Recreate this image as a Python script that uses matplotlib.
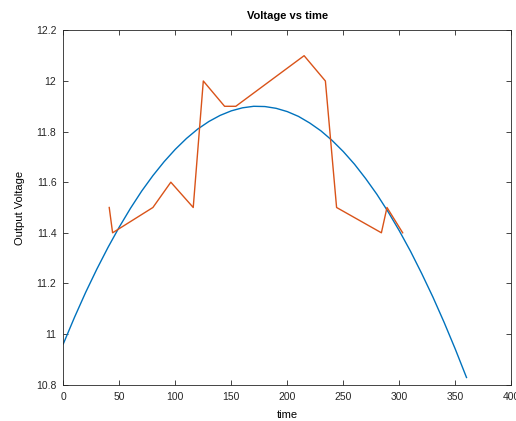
import matplotlib.pyplot as plt

# measured voltage samples
t_meas = [41, 44, 80, 96, 116, 125, 144, 154, 215, 234, 244, 284, 289, 303]
v_meas = [11.5, 11.4, 11.5, 11.6, 11.5, 12.0, 11.9, 11.9, 12.1, 12.0, 11.5, 11.4, 11.5, 11.4]

# fitted curve
t_fit = [0, 10, 20, 30, 40, 50, 60, 70, 80, 90, 100, 110, 120, 130, 140, 150, 160, 170, 180,
         190, 200, 210, 220, 230, 240, 250, 260, 270, 280, 290, 300, 310, 320, 330, 340, 350, 360]
v_fit = [10.961, 11.066, 11.165, 11.257, 11.343, 11.423, 11.497, 11.565, 11.626, 11.681,
         11.730, 11.773, 11.810, 11.840, 11.864, 11.882, 11.894, 11.900, 11.899,
         11.892, 11.879, 11.860, 11.834, 11.803, 11.765, 11.721, 11.671, 11.614, 11.552,
         11.483, 11.408, 11.327, 11.239, 11.146, 11.046, 10.940, 10.828]

xticks = [0, 50, 100, 150, 200, 250, 300, 350, 400]
yticks = [10.8, 11, 11.2, 11.4, 11.6, 11.8, 12, 12.2]
ytick_labels = ['10.8', '11', '11.2', '11.4', '11.6', '11.8', '12', '12.2']

plt.rcParams['font.family'] = ['Liberation Sans', 'DejaVu Sans']
plt.rcParams['font.size'] = 7.5

fig = plt.figure(figsize=(5.16, 4.21), dpi=100)
ax = fig.add_axes([0.1227, 0.0865, 0.8682, 0.8413])

ax.plot(t_fit, v_fit, color='#0072BD', lw=1.0)
ax.plot(t_meas, v_meas, color='#D95319', lw=1.0)

ax.set_xlim(0, 400)
ax.set_ylim(10.8, 12.2)
ax.set_xticks(xticks)
ax.set_yticks(yticks)
ax.set_yticklabels(ytick_labels)
ax.tick_params(direction='in', top=True, right=True, length=3.5, width=0.6,
               colors='#262626', labelsize=7.5, pad=5)
for s in ax.spines.values():
    s.set_color('#262626')
    s.set_linewidth(0.6)

ax.set_title('Voltage vs time', fontsize=8, fontweight='bold', pad=8)
ax.set_xlabel('time', fontsize=8, labelpad=6)
ax.set_ylabel('Output Voltage', fontsize=8, labelpad=8)

fig.savefig('out.png', dpi=100)
